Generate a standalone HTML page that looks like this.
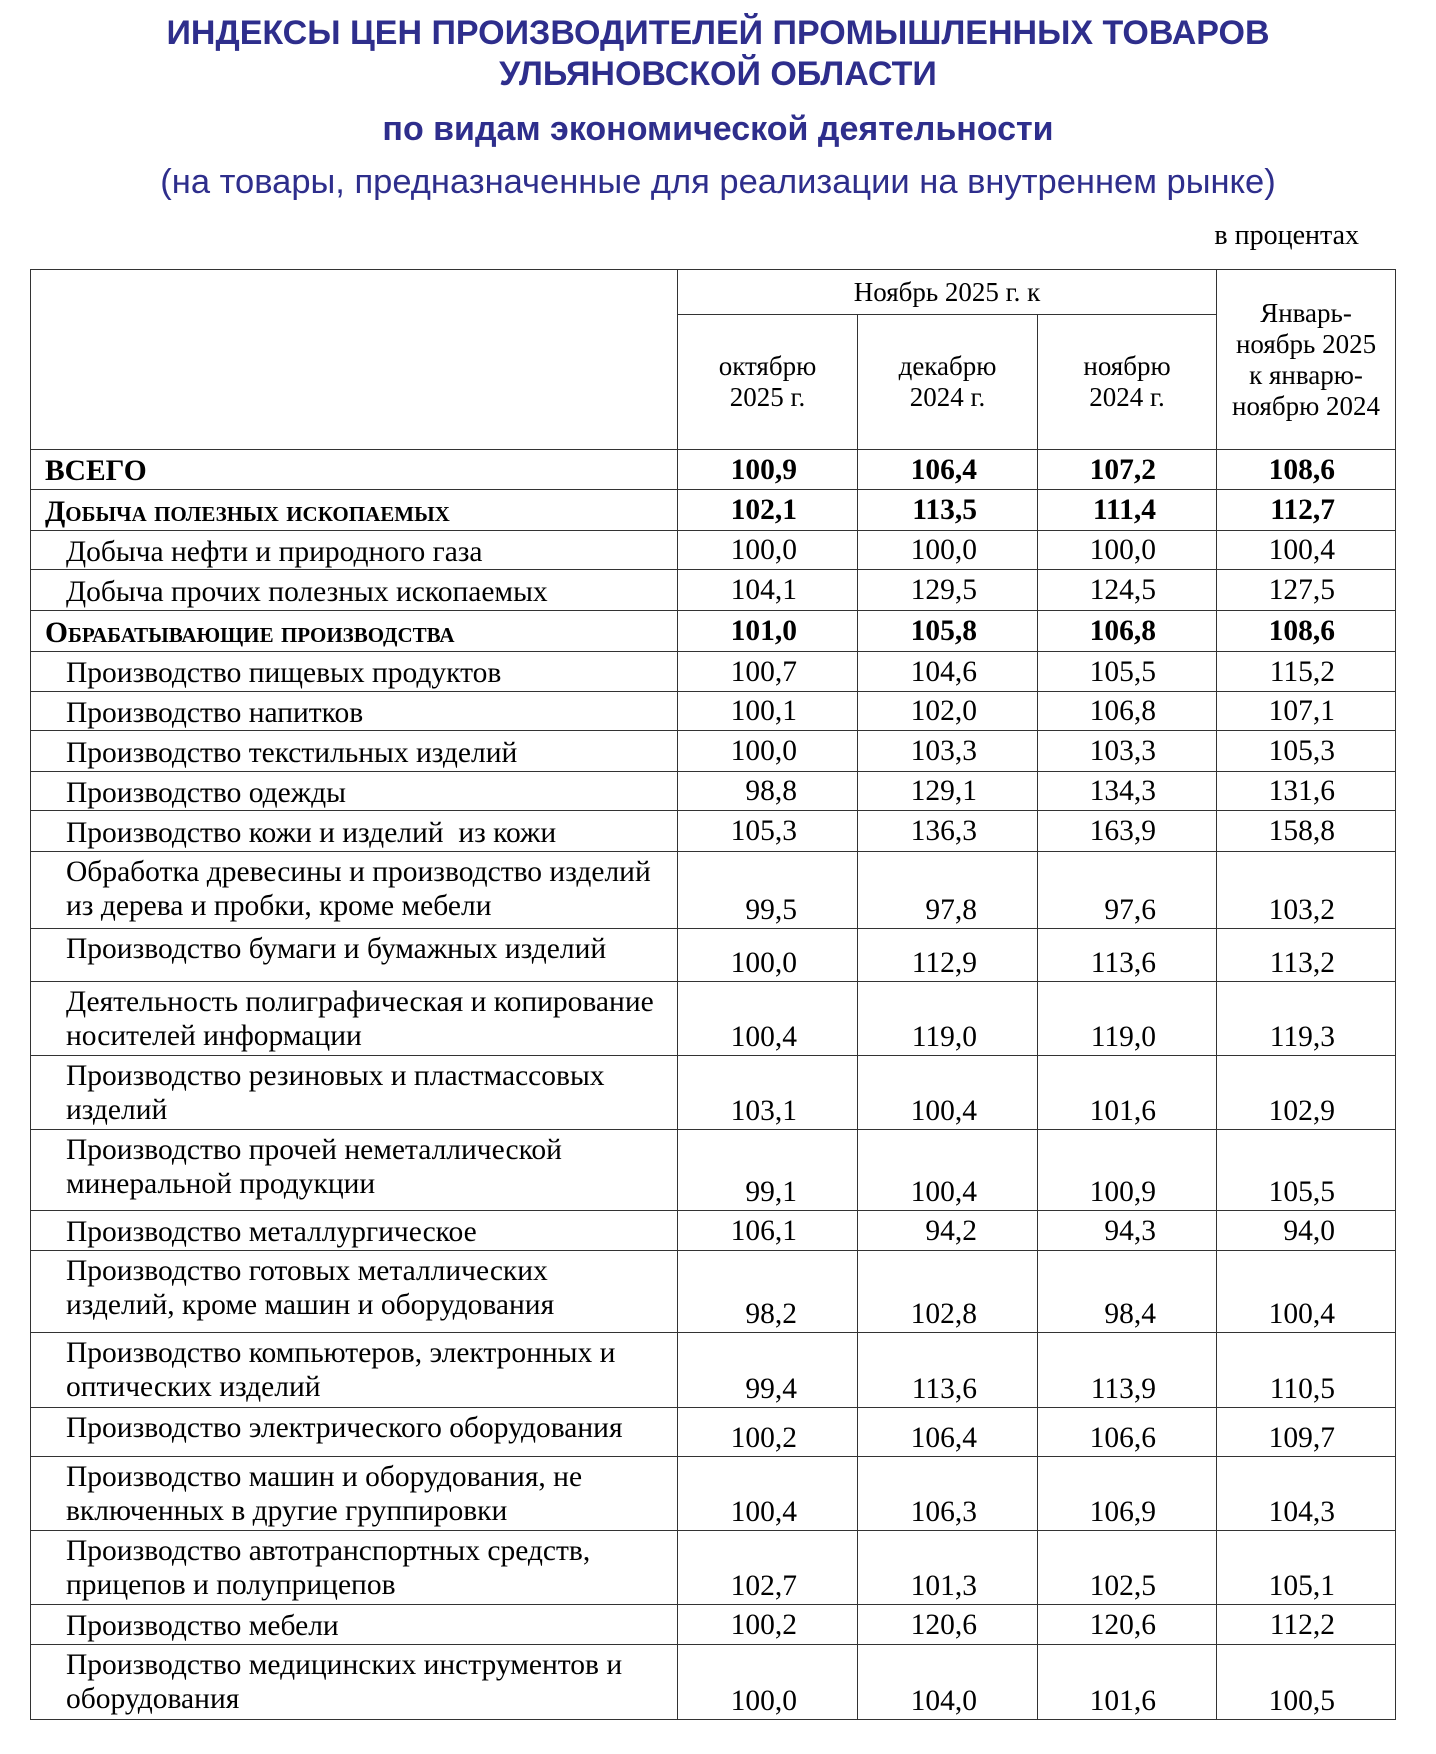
<!DOCTYPE html>
<html><head><meta charset="utf-8">
<style>
body{margin:0;width:1436px;height:1754px;background:#fff;position:relative;font-family:"Liberation Serif","DejaVu Serif",serif;color:#000;}
.t{position:absolute;left:0;width:1436px;text-align:center;color:#2e2e8c;font-family:"Liberation Sans","DejaVu Sans",sans-serif;white-space:nowrap}
table{position:absolute;left:30px;top:269px;border-collapse:collapse;table-layout:fixed;width:1365px}
td{border:1.5px solid #333;font-size:29.5px;line-height:34px;padding:0;vertical-align:top;white-space:nowrap}
td.l{padding:3px 2px 0 35px;white-space:normal}
td.b{padding-left:14px;font-weight:bold}
td.n{text-align:right;padding-right:60px;vertical-align:bottom;padding-bottom:1px}
td.m{vertical-align:middle;padding-bottom:0}
tr.bold td.n{font-weight:bold}
.sc{font-variant:small-caps}
.h{text-align:center;vertical-align:middle;font-size:27px;line-height:31px}
</style></head><body>
<div class="t" style="top:13px;font-size:34px;font-weight:bold;line-height:41px">ИНДЕКСЫ ЦЕН ПРОИЗВОДИТЕЛЕЙ ПРОМЫШЛЕННЫХ ТОВАРОВ<br>УЛЬЯНОВСКОЙ ОБЛАСТИ</div>
<div class="t" style="top:110px;font-size:34px;font-weight:bold">по видам экономической деятельности</div>
<div class="t" style="top:163px;font-size:34.5px">(на товары, предназначенные для реализации на внутреннем рынке)</div>
<div style="position:absolute;right:77px;top:220px;font-size:28px">в процентах</div>
<table>
<colgroup><col style="width:647px"><col style="width:180px"><col style="width:180px"><col style="width:179px"><col style="width:179px"></colgroup>
<tr style="height:45px"><td rowspan="2"></td><td colspan="3" class="h">Ноябрь 2025 г. к</td><td rowspan="2" class="h">Январь-<br>ноябрь 2025<br>к январю-<br>ноябрю 2024</td></tr>
<tr style="height:135px"><td class="h">октябрю<br>2025 г.</td><td class="h">декабрю<br>2024 г.</td><td class="h">ноябрю<br>2024 г.</td></tr>
<tr class="bold" style="height:40px"><td class="l b m">ВСЕГО</td><td class="n m">100,9</td><td class="n m">106,4</td><td class="n m">107,2</td><td class="n m">108,6</td></tr>
<tr class="bold" style="height:41px"><td class="l b m sc">Добыча полезных ископаемых</td><td class="n m">102,1</td><td class="n m">113,5</td><td class="n m">111,4</td><td class="n m">112,7</td></tr>
<tr style="height:39px"><td class="l m">Добыча нефти и природного газа</td><td class="n m">100,0</td><td class="n m">100,0</td><td class="n m">100,0</td><td class="n m">100,4</td></tr>
<tr style="height:41px"><td class="l m">Добыча прочих полезных ископаемых</td><td class="n m">104,1</td><td class="n m">129,5</td><td class="n m">124,5</td><td class="n m">127,5</td></tr>
<tr class="bold" style="height:41px"><td class="l b m sc">Обрабатывающие производства</td><td class="n m">101,0</td><td class="n m">105,8</td><td class="n m">106,8</td><td class="n m">108,6</td></tr>
<tr style="height:40px"><td class="l m">Производство пищевых продуктов</td><td class="n m">100,7</td><td class="n m">104,6</td><td class="n m">105,5</td><td class="n m">115,2</td></tr>
<tr style="height:39px"><td class="l m">Производство напитков</td><td class="n m">100,1</td><td class="n m">102,0</td><td class="n m">106,8</td><td class="n m">107,1</td></tr>
<tr style="height:41px"><td class="l m">Производство текстильных изделий</td><td class="n m">100,0</td><td class="n m">103,3</td><td class="n m">103,3</td><td class="n m">105,3</td></tr>
<tr style="height:39px"><td class="l m">Производство одежды</td><td class="n m">98,8</td><td class="n m">129,1</td><td class="n m">134,3</td><td class="n m">131,6</td></tr>
<tr style="height:41px"><td class="l m">Производство кожи и изделий&nbsp; из кожи</td><td class="n m">105,3</td><td class="n m">136,3</td><td class="n m">163,9</td><td class="n m">158,8</td></tr>
<tr style="height:77px"><td class="l">Обработка древесины и производство изделий<br>из дерева и пробки, кроме мебели</td><td class="n">99,5</td><td class="n">97,8</td><td class="n">97,6</td><td class="n">103,2</td></tr>
<tr style="height:53px"><td class="l">Производство бумаги и бумажных изделий</td><td class="n">100,0</td><td class="n">112,9</td><td class="n">113,6</td><td class="n">113,2</td></tr>
<tr style="height:74px"><td class="l">Деятельность полиграфическая и копирование<br>носителей информации</td><td class="n">100,4</td><td class="n">119,0</td><td class="n">119,0</td><td class="n">119,3</td></tr>
<tr style="height:74px"><td class="l">Производство резиновых и пластмассовых<br>изделий</td><td class="n">103,1</td><td class="n">100,4</td><td class="n">101,6</td><td class="n">102,9</td></tr>
<tr style="height:81px"><td class="l">Производство прочей неметаллической<br>минеральной продукции</td><td class="n">99,1</td><td class="n">100,4</td><td class="n">100,9</td><td class="n">105,5</td></tr>
<tr style="height:40px"><td class="l m">Производство металлургическое</td><td class="n m">106,1</td><td class="n m">94,2</td><td class="n m">94,3</td><td class="n m">94,0</td></tr>
<tr style="height:82px"><td class="l">Производство готовых металлических<br>изделий, кроме машин и оборудования</td><td class="n">98,2</td><td class="n">102,8</td><td class="n">98,4</td><td class="n">100,4</td></tr>
<tr style="height:75px"><td class="l">Производство компьютеров, электронных и<br>оптических изделий</td><td class="n">99,4</td><td class="n">113,6</td><td class="n">113,9</td><td class="n">110,5</td></tr>
<tr style="height:49px"><td class="l">Производство электрического оборудования</td><td class="n">100,2</td><td class="n">106,4</td><td class="n">106,6</td><td class="n">109,7</td></tr>
<tr style="height:74px"><td class="l">Производство машин и оборудования, не<br>включенных в другие группировки</td><td class="n">100,4</td><td class="n">106,3</td><td class="n">106,9</td><td class="n">104,3</td></tr>
<tr style="height:74px"><td class="l">Производство автотранспортных средств,<br>прицепов и полуприцепов</td><td class="n">102,7</td><td class="n">101,3</td><td class="n">102,5</td><td class="n">105,1</td></tr>
<tr style="height:40px"><td class="l m">Производство мебели</td><td class="n m">100,2</td><td class="n m">120,6</td><td class="n m">120,6</td><td class="n m">112,2</td></tr>
<tr style="height:75px"><td class="l">Производство медицинских инструментов и<br>оборудования</td><td class="n">100,0</td><td class="n">104,0</td><td class="n">101,6</td><td class="n">100,5</td></tr>
</table>
</body></html>
